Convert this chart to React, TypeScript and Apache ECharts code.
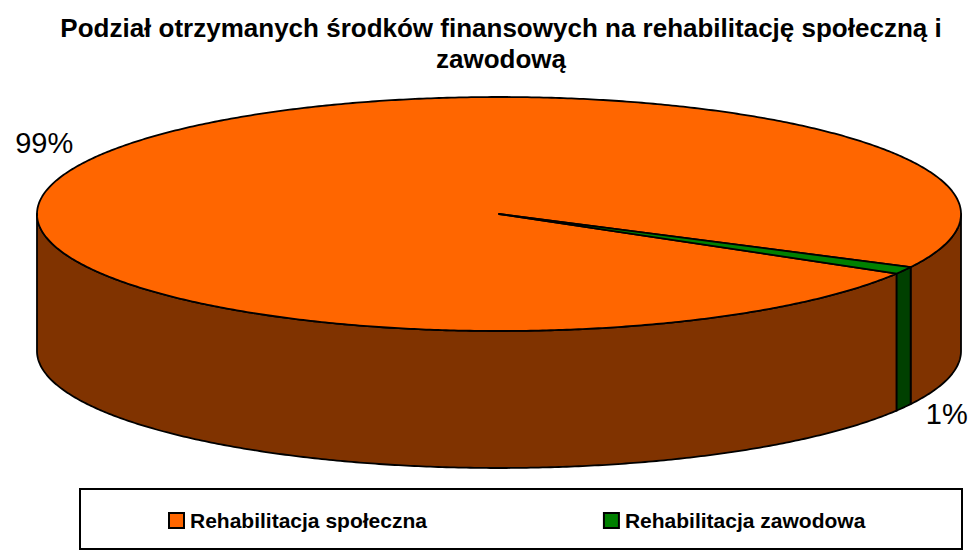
import React, { useEffect, useRef } from "react";
import * as echarts from "echarts";

const titleLines = [
  "Podział otrzymanych środków finansowych na rehabilitację społeczną i",
  "zawodową",
];
const categories = ["Rehabilitacja społeczna", "Rehabilitacja zawodowa"];
const values = [99, 1];
const topColors = ["#FF6600", "#008000"];
const sideColors = ["#803300", "#004000"];

const FONT = '"Liberation Sans", Arial, sans-serif';

// pie geometry (pixels)
const CX = 499;
const CY = 214;
const RX = 462;
const RY = 117;
const DEPTH = 137;
const START = 30.6; // degrees, clockwise from 3 o'clock

const total = values.reduce((a, b) => a + b, 0);
const rad = Math.PI / 180;

function pt(t: number, dy = 0): number[] {
  return [CX + RX * Math.cos(t * rad), CY + RY * Math.sin(t * rad) + dy];
}

function arc(a: number, b: number, dy = 0): number[][] {
  const pts: number[][] = [];
  const n = Math.max(2, Math.ceil(Math.abs(b - a) / 0.5));
  for (let k = 0; k <= n; k++) pts.push(pt(a + ((b - a) * k) / n, dy));
  return pts;
}

export default function App() {
  const ref = useRef<HTMLDivElement>(null);
  useEffect(() => {
    if (!ref.current) return;
    const chart = echarts.init(ref.current, undefined, { renderer: "svg" });

    const renderItem = (params: any, api: any) => {
      const i = params.seriesIndex;
      const v = api.value(0);
      let before = 0;
      for (let k = 0; k < i; k++) before += values[k];
      const a = START + (before / total) * 360;
      const b = a + (v / total) * 360;
      const children: any[] = [];
      const lineStyle = { stroke: "#000", lineWidth: 1.8, lineJoin: "round" };
      // visible front walls
      const ranges = [
        [-360, -180],
        [0, 180],
        [360, 540],
      ];
      ranges.forEach(([lo, hi]) => {
        const p = Math.max(a, lo);
        const q = Math.min(b, hi);
        if (q > p) {
          const pts = arc(p, q).concat(arc(q, p, DEPTH));
          children.push({
            type: "polygon",
            shape: { points: pts },
            style: { fill: sideColors[i], ...lineStyle },
          });
        }
      });
      // top face
      children.push({
        type: "polygon",
        shape: { points: [[CX, CY]].concat(arc(a, b)) },
        style: { fill: topColors[i], ...lineStyle },
      });
      // label
      const m = (a + b) / 2;
      const s = Math.sin(m * rad);
      const below = s > 0;
      const lx = CX + (RX + (below ? 49 : 57)) * Math.cos(m * rad);
      const ly = CY + (RY + (below ? 13 : 30)) * s + (below ? DEPTH : 0);
      children.push({
        type: "text",
        x: lx,
        y: ly,
        style: {
          text: Math.round((v / total) * 100) + "%",
          fontSize: 29,
          fontFamily: FONT,
          fill: "#000",
          align: "center",
          verticalAlign: "middle",
        },
      });
      return { type: "group", children };
    };

    chart.setOption({
      animation: false,
      backgroundColor: "#fff",
      graphic: [
        ...titleLines.map((t, k) => ({
          type: "text",
          x: 501,
          y: 28 + k * 31,
          style: {
            text: t,
            font: `bold 26px ${FONT}`,
            fill: "#000",
            textAlign: "center",
            textVerticalAlign: "middle",
            align: "center",
            verticalAlign: "middle",
          },
        })),
        {
          type: "rect",
          shape: { x: 80, y: 489, width: 882, height: 60 },
          style: { fill: "transparent", stroke: "#000", lineWidth: 2 },
        },
      ],
      legend: {
        left: 163,
        top: 504,
        orient: "horizontal",
        icon: "rect",
        itemWidth: 15,
        itemHeight: 15,
        itemGap: 176,
        selectedMode: false,
        data: categories.map((n, i) => ({
          name: n,
          itemStyle: { color: topColors[i], borderColor: "#000", borderWidth: 2 },
        })),
        textStyle: {
          fontSize: 21,
          fontWeight: "bold",
          fontFamily: FONT,
          color: "#000",
          lineHeight: 23,
          padding: [0, 0, 0, 1],
        },
      },
      series: categories.map((n, i) => ({
        type: "custom",
        name: n,
        coordinateSystem: "none",
        silent: true,
        itemStyle: { color: topColors[i], borderColor: "#000", borderWidth: 2 },
        renderItem,
        data: [[values[i]]],
      })),
    });

    return () => chart.dispose();
  }, []);
  return (
    <div
      ref={ref}
      style={{ position: "fixed", left: 0, top: 0, width: 970, height: 550, background: "#fff" }}
    />
  );
}
